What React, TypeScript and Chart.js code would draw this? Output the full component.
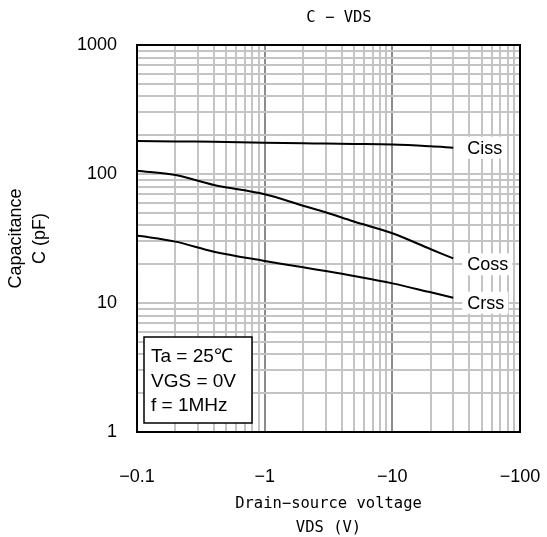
import React, { useEffect, useRef } from "react";
import { Chart, registerables } from "chart.js";

Chart.register(...registerables);

// ---- data ----
const VDS = [-0.1, -0.2, -0.4, -1, -2, -3, -5, -10, -20, -30];
const CISS = [180, 179, 177.5, 175, 173, 172, 171, 169, 164, 160];
const COSS = [106, 98.2, 82.2, 69.7, 56.8, 50.5, 42.8, 34.7, 26.1, 22.2];
const CRSS = [33.3, 29.9, 25.0, 21.2, 18.9, 17.7, 16.2, 14.2, 12.1, 11.0];
const SERIES_NAMES = ["Ciss", "Coss", "Crss"];
const X_TICKS = [-0.1, -1, -10, -100];
const Y_TICKS = [1, 10, 100, 1000];
const TITLE = "C − VDS";
const X_TITLE = ["Drain−source voltage", "VDS (V)"];
const Y_TITLE = ["Capacitance", "C (pF)"];
const CONDITIONS = ["Ta = 25℃", "VGS = 0V", "f = 1MHz"];

const SANS = "'Liberation Sans', Arial, sans-serif";
const MONO = "'DejaVu Sans Mono', monospace";

const isDecade = (v: number) =>
  Math.abs(Math.log10(v) - Math.round(Math.log10(v))) < 1e-9;

function gridTicks(min: number, max: number) {
  const out: { value: number }[] = [];
  for (let d = min; d <= max * 1.0001; d *= 10) {
    for (let k = 1; k < 10; k++) {
      const v = d * k;
      if (v > max * 1.0001) break;
      out.push({ value: v });
    }
  }
  return out;
}

const labelOffsets = [0, 6, 5];

const overlayPlugin = {
  id: "overlay",
  afterDatasetsDraw(chart: any) {
    const { ctx, chartArea, scales } = chart;
    const xs = scales.x;
    const ys = scales.y;
    ctx.save();
    // curve labels
    ctx.font = `18px ${SANS}`;
    ctx.textBaseline = "middle";
    ctx.textAlign = "left";
    const series = [CISS, COSS, CRSS];
    series.forEach((s, i) => {
      const lastX = Math.abs(VDS[VDS.length - 1]);
      const px = xs.getPixelForValue(lastX) + 14;
      const py = ys.getPixelForValue(s[s.length - 1]) + labelOffsets[i];
      const w = ctx.measureText(SERIES_NAMES[i]).width;
      ctx.fillStyle = "#fff";
      ctx.fillRect(px - 5, py - 11, w + 9, 22);
      ctx.fillStyle = "#000";
      ctx.fillText(SERIES_NAMES[i], px, py + 1);
    });
    // conditions box
    const bx = chartArea.left + 7;
    const bh = 86;
    const by = chartArea.bottom - 9 - bh;
    const bw = 108;
    ctx.fillStyle = "#fff";
    ctx.fillRect(bx, by, bw, bh);
    ctx.strokeStyle = "#000";
    ctx.lineWidth = 1.5;
    ctx.strokeRect(bx, by, bw, bh);
    ctx.fillStyle = "#000";
    ctx.font = `19px ${SANS}`;
    CONDITIONS.forEach((t, i) => {
      ctx.fillText(t, bx + 7, by + 20 + i * 24.5);
    });
    ctx.restore();
  },
  afterDraw(chart: any) {
    const { ctx, chartArea } = chart;
    ctx.save();
    ctx.strokeStyle = "#000";
    ctx.lineWidth = 2;
    ctx.strokeRect(
      chartArea.left,
      chartArea.top,
      chartArea.right - chartArea.left,
      chartArea.bottom - chartArea.top
    );
    ctx.fillStyle = "#000";
    ctx.font = `15.5px ${MONO}`;
    ctx.textAlign = "center";
    ctx.textBaseline = "middle";
    ctx.fillText(TITLE, 339, 18);
    ctx.restore();
  },
};

export default function App() {
  const ref = useRef<HTMLCanvasElement | null>(null);

  useEffect(() => {
    if (!ref.current) return;
    const mk = (vals: number[]) =>
      VDS.map((v, i) => ({ x: Math.abs(v), y: vals[i] }));
    const ds = (vals: number[], name: string) => ({
      label: name,
      data: mk(vals),
      borderColor: "#000",
      borderWidth: 2,
      pointRadius: 0,
      fill: false,
      tension: 0.35,
    });
    const xMin = Math.abs(X_TICKS[0]);
    const xMax = Math.abs(X_TICKS[X_TICKS.length - 1]);
    const yMin = Y_TICKS[0];
    const yMax = Y_TICKS[Y_TICKS.length - 1];
    const chart = new Chart(ref.current, {
      type: "line",
      data: {
        datasets: [
          ds(CISS, SERIES_NAMES[0]),
          ds(COSS, SERIES_NAMES[1]),
          ds(CRSS, SERIES_NAMES[2]),
        ],
      },
      options: {
        animation: false,
        responsive: false,
        devicePixelRatio: 1,
        layout: { padding: { left: 0, right: 27, top: 45, bottom: 0 } },
        plugins: {
          legend: { display: false },
          tooltip: { enabled: false },
          title: { display: false },
        },
        scales: {
          x: {
            type: "logarithmic",
            min: xMin,
            max: xMax,
            afterBuildTicks: (s: any) => {
              s.ticks = gridTicks(xMin, xMax);
            },
            afterFit: (s: any) => {
              s.height = 105;
              s.paddingLeft = 0;
              s.paddingRight = 0;
            },
            border: { display: false },
            grid: {
              drawTicks: false,
              lineWidth: 2,
              color: (c: any) =>
                c.tick && isDecade(c.tick.value) ? "#8c8c8c" : "#c4c4c4",
            },
            ticks: {
              autoSkip: false,
              maxRotation: 0,
              padding: 34,
              color: "#000",
              font: { family: SANS, size: 18 },
              callback: (value: any) => {
                const t = X_TICKS.find(
                  (k) => Math.abs(Math.abs(k) - value) / value < 1e-6
                );
                return t === undefined ? "" : String(t).replace("-", "−");
              },
            },
            title: {
              display: true,
              text: X_TITLE,
              color: "#000",
              font: { family: MONO, size: 15.5, lineHeight: 24 / 15.5 },
              padding: { top: 0, bottom: -3 },
            },
          },
          y: {
            type: "logarithmic",
            min: yMin,
            max: yMax,
            afterBuildTicks: (s: any) => {
              s.ticks = gridTicks(yMin, yMax);
            },
            afterFit: (s: any) => {
              s.width = 137;
              s.paddingTop = 0;
              s.paddingBottom = 0;
            },
            border: { display: false },
            grid: {
              drawTicks: false,
              lineWidth: 2,
              color: "#c4c4c4",
            },
            ticks: {
              autoSkip: false,
              padding: 20,
              color: "#000",
              font: { family: SANS, size: 18 },
              callback: (value: any) => {
                const t = Y_TICKS.find(
                  (k) => Math.abs(k - value) / value < 1e-6
                );
                return t === undefined ? "" : String(t);
              },
            },
            title: {
              display: true,
              text: Y_TITLE,
              color: "#000",
              font: { family: SANS, size: 18, lineHeight: 24 / 18 },
              padding: { top: 4, bottom: 0 },
            },
          },
        },
      },
      plugins: [overlayPlugin],
    });
    return () => chart.destroy();
  }, []);

  return (
    <div style={{ position: "fixed", left: 0, top: 0, width: 547, height: 537, background: "#fff" }}>
      <canvas ref={ref} width={547} height={537} style={{ display: "block" }} />
    </div>
  );
}
